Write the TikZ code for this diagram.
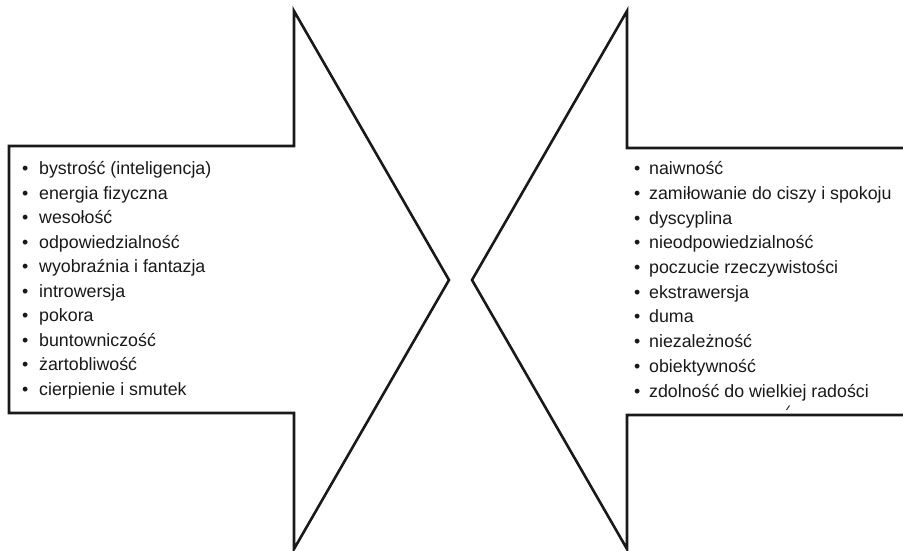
\documentclass[tikz,border=0pt]{standalone}
\usepackage{fontspec}
\setmainfont{Liberation Sans}
\usepackage{tikz}
\usetikzlibrary{calc,positioning}

\begin{document}
\begin{tikzpicture}[x=1pt,y=-1pt,
  arrowline/.style={line width=2.6pt,draw=black!90,line join=miter},
  list/.style={align=left,inner sep=0pt,anchor=base west,text=black!90,
    font=\fontsize{17.8}{24.5}\selectfont}]
\useasboundingbox (0,0) rectangle (903,551);
% left arrow
\draw[arrowline,fill=white] (9,146) coordinate(A)-- (294,146)coordinate(B) -- (294,11)coordinate(C) -- (449,280)coordinate(D) -- (294,549)coordinate(E) -- (294,413)coordinate(F) -- (9,413)coordinate(G) -- cycle;
% right arrow, open to the right
\draw[arrowline] (905,148) coordinate(H)-- (627,148)coordinate(I) -- (627,11)coordinate(J) -- (472,280)coordinate(K) -- (627,549)coordinate(L) -- (627,415)coordinate(M) -- (905,415)coordinate(N);
% anchor = baseline of the last line
\node[list] (cechyL) at (22,395) {\makebox[17pt][l]{•}bystrość (inteligencja)\\
\makebox[17pt][l]{•}energia fizyczna\\
\makebox[17pt][l]{•}wesołość\\
\makebox[17pt][l]{•}odpowiedzialność\\
\makebox[17pt][l]{•}wyobraźnia i fantazja\\
\makebox[17pt][l]{•}introwersja\\
\makebox[17pt][l]{•}pokora\\
\makebox[17pt][l]{•}buntowniczość\\
\makebox[17pt][l]{•}żartobliwość\\
\makebox[17pt][l]{•}cierpienie i smutek};
\node[list,font=\fontsize{17.8}{24.7}\selectfont] (cechyP) at (634,397) {\makebox[15pt][l]{•}naiwność\\
\makebox[15pt][l]{•}zamiłowanie do ciszy i spokoju\\
\makebox[15pt][l]{•}dyscyplina\\
\makebox[15pt][l]{•}nieodpowiedzialność\\
\makebox[15pt][l]{•}poczucie rzeczywistości\\
\makebox[15pt][l]{•}ekstrawersja\\
\makebox[15pt][l]{•}duma\\
\makebox[15pt][l]{•}niezależność\\
\makebox[15pt][l]{•}obiektywność\\
\makebox[15pt][l]{•}zdolność do wielkiej radości};
% stray accent above the lower edge
\draw[line width=1pt,black!80] (786.5,410) -- (789.5,405.5);
\end{tikzpicture}
\end{document}
